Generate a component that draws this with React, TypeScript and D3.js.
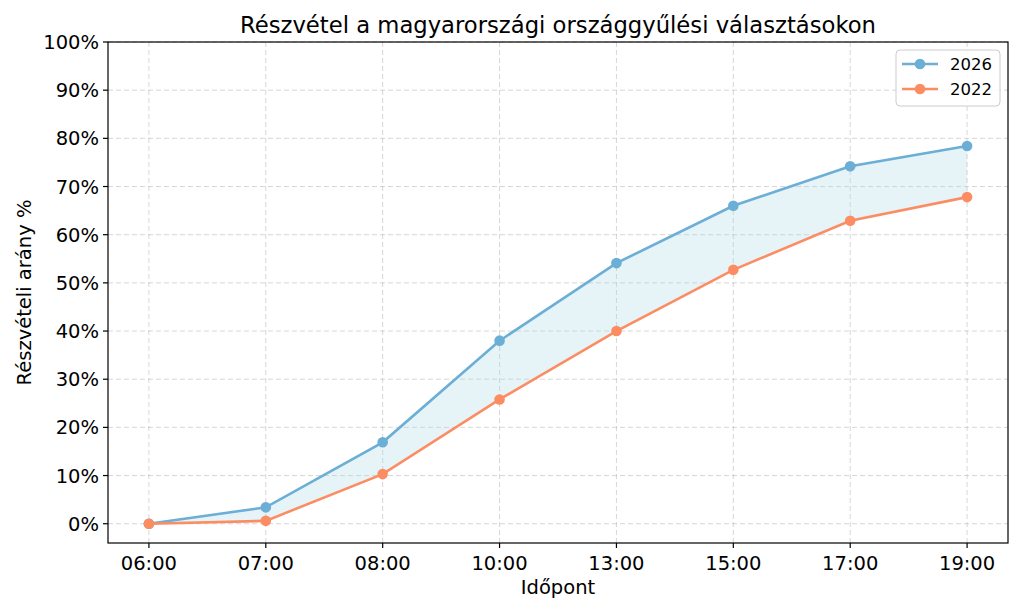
import React from "react";
import * as d3 from "d3";

const categories = ["06:00", "07:00", "08:00", "10:00", "13:00", "15:00", "17:00", "19:00"];
const series2026 = [0, 3.4, 16.9, 38.0, 54.1, 66.0, 74.2, 78.4];
const series2022 = [0, 0.6, 10.3, 25.8, 40.0, 52.7, 62.9, 67.8];
const yTicks = [0, 10, 20, 30, 40, 50, 60, 70, 80, 90, 100];
const seriesNames = ["2026", "2022"];
const colors = ["#6baed6", "#fc8d62"];

const W = 1024, H = 614;
const L = 108, R = 1008, T = 42, B = 543;
const FONT = "DejaVu Sans, sans-serif";

export default function App() {
  const x = d3.scalePoint<string>().domain(categories).range([L, R]).padding(0.35);
  const y = d3.scaleLinear().domain([-4, 100]).range([B, T]);
  const line = d3.line<number>().x((_, i) => x(categories[i])!).y((d) => y(d));
  const area = d3
    .area<number>()
    .x((_, i) => x(categories[i])!)
    .y0((_, i) => y(series2022[i]))
    .y1((d) => y(d));
  const all = [series2026, series2022];
  return (
    <svg width={W} height={H} style={{ position: "absolute", left: 0, top: 0, background: "#fff" }} fontFamily={FONT}>
      <rect x={0} y={0} width={W} height={H} fill="#fff" />
      {yTicks.map((t) => (
        <line key={"gy" + t} x1={L} x2={R} y1={y(t)} y2={y(t)} stroke="#b0b0b0" strokeOpacity={0.5} strokeDasharray="5,3" strokeWidth={1} />
      ))}
      {categories.map((c) => (
        <line key={"gx" + c} x1={x(c)} x2={x(c)} y1={T} y2={B} stroke="#b0b0b0" strokeOpacity={0.5} strokeDasharray="5,3" strokeWidth={1} />
      ))}
      <path d={area(series2026)!} fill="#add8e6" fillOpacity={0.3} />
      {all.map((s, k) => (
        <g key={"s" + k}>
          <path d={line(s)!} fill="none" stroke={colors[k]} strokeWidth={2.6} />
          {s.map((v, i) => (
            <circle key={i} cx={x(categories[i])} cy={y(v)} r={5.3} fill={colors[k]} />
          ))}
        </g>
      ))}
      <rect x={L} y={T} width={R - L} height={B - T} fill="none" stroke="#000" strokeWidth={1.2} />
      {yTicks.map((t) => (
        <g key={"yt" + t}>
          <line x1={L - 5} x2={L} y1={y(t)} y2={y(t)} stroke="#000" strokeWidth={1.2} />
          <text x={L - 9} y={y(t)} dy="0.36em" textAnchor="end" fontSize={19.5} fill="#000">
            {t}%
          </text>
        </g>
      ))}
      {categories.map((c) => (
        <g key={"xt" + c}>
          <line x1={x(c)} x2={x(c)} y1={B} y2={B + 5} stroke="#000" strokeWidth={1.2} />
          <text x={x(c)} y={B + 27} textAnchor="middle" fontSize={19.5} fill="#000">
            {c}
          </text>
        </g>
      ))}
      <text x={(L + R) / 2} y={33} textAnchor="middle" fontSize={22.7} fill="#000">
        Részvétel a magyarországi országgyűlési választásokon
      </text>
      <text x={(L + R) / 2} y={594} textAnchor="middle" fontSize={19.5} fill="#000">
        Időpont
      </text>
      <text transform={`translate(31,${(T + B) / 2}) rotate(-90)`} textAnchor="middle" fontSize={19.5} fill="#000">
        Részvételi arány %
      </text>
      <rect x={896} y={50} width={104} height={56} rx={4} fill="#fff" fillOpacity={0.8} stroke="#ccc" />
      {seriesNames.map((n, k) => (
        <g key={"lg" + n}>
          <line x1={902} x2={938} y1={64 + k * 25} y2={64 + k * 25} stroke={colors[k]} strokeWidth={2.6} />
          <circle cx={920} cy={64 + k * 25} r={5.3} fill={colors[k]} />
          <text x={950} y={64 + k * 25} dy="0.36em" fontSize={16.5} fill="#000">
            {n}
          </text>
        </g>
      ))}
    </svg>
  );
}
